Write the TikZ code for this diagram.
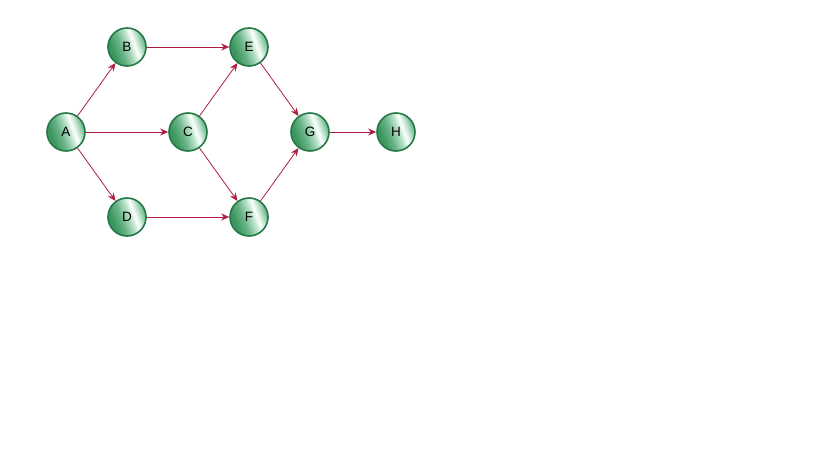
\documentclass[tikz,border=0pt]{standalone}
\usepackage{fontspec}
\setmainfont{Liberation Sans}
\usetikzlibrary{arrows.meta}
\definecolor{grim}{RGB}{35,120,70}
\definecolor{gdark}{RGB}{60,150,95}
\definecolor{gmid}{RGB}{105,180,135}
\definecolor{glight}{RGB}{190,228,205}
\definecolor{arrowred}{RGB}{175,30,65}
\pgfdeclarehorizontalshading{ballshade}{100bp}{color(0bp)=(gdark); color(30bp)=(gdark); color(42bp)=(gmid); color(54bp)=(glight); color(60bp)=(white); color(66bp)=(glight); color(74bp)=(gmid); color(100bp)=(gdark)}
\tikzset{
  ball/.style={circle, minimum size=38pt, inner sep=0pt, draw=grim, line width=1.6pt,
    shading=ballshade, shading angle=20, font=\fontsize{13.5}{15}\selectfont},
  conn/.style={draw=arrowred, line width=0.8pt, -{Stealth[length=8pt,width=7pt]}}
}
\begin{document}
\begin{tikzpicture}[x=1pt,y=-1pt]
\useasboundingbox (0,0) rectangle (819,460);
\node[ball] (A) at (66,132) {A};
\node[ball] (B) at (127,47) {B};
\node[ball] (C) at (188,132) {C};
\node[ball] (D) at (127,217) {D};
\node[ball] (E) at (249,47) {E};
\node[ball] (F) at (249,217) {F};
\node[ball] (G) at (310,132) {G};
\node[ball] (H) at (396,132) {H};
\draw[conn] (A) -- (B);
\draw[conn] (A) -- (C);
\draw[conn] (A) -- (D);
\draw[conn] (B) -- (E);
\draw[conn] (C) -- (E);
\draw[conn] (C) -- (F);
\draw[conn] (D) -- (F);
\draw[conn] (E) -- (G);
\draw[conn] (F) -- (G);
\draw[conn] (G) -- (H);
\end{tikzpicture}
\end{document}
